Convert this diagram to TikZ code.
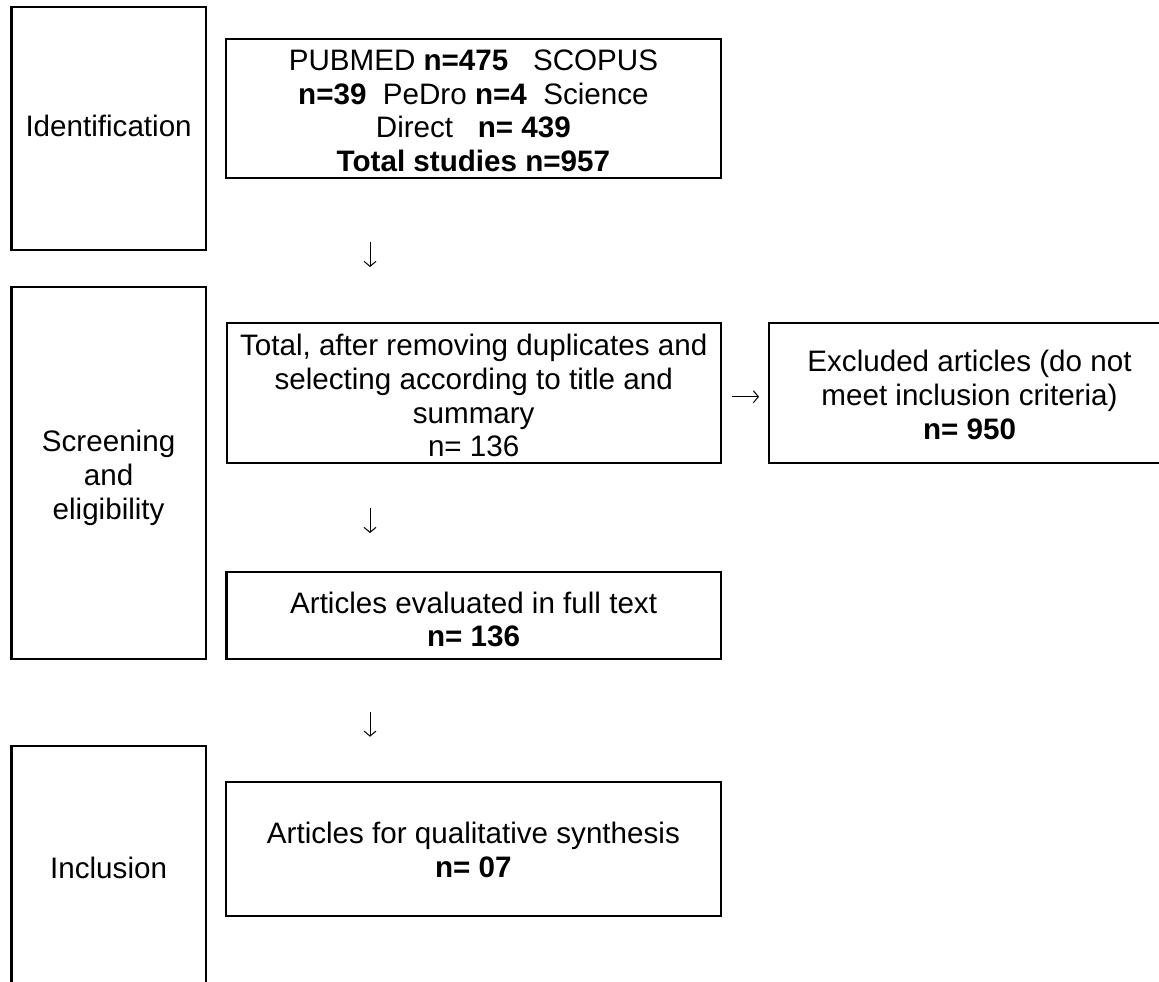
\documentclass[tikz,border=0pt]{standalone}
\usepackage{fontspec}
\setmainfont{Liberation Sans}
\usetikzlibrary{arrows.meta}
\tikzset{
  txt/.style={font=\fontsize{29.6}{33.7}\selectfont, align=center, inner sep=0pt},
  box/.style={draw=black, line width=2.2pt, rectangle, inner sep=0pt, anchor=center},
  boxtext/.style 2 args={label={[txt, yshift=#1]center:{#2}}},
  flow/.style={line width=1pt, -{Straight Barb[length=5pt,width=12pt,line width=1pt]}}
}
\begin{document}
\begin{tikzpicture}[x=1pt,y=-1pt]
\clip (0,0) rectangle (1159,982);
\fill[white] (0,0) rectangle (1159,982);

% stage boxes
\node[box, minimum width=194.2pt, minimum height=243pt,
  boxtext={3pt}{Identification}] (ident) at (108.6,128.5) {};
\node[box, minimum width=194.2pt, minimum height=372.6pt,
  boxtext={-5pt}{Screening\\and\\eligibility}] (screen) at (108.6,473) {};
\node[box, minimum width=194.2pt, minimum height=243pt,
  boxtext={0pt}{Inclusion}] (incl) at (108.6,867.5) {};

% flow boxes
\node[box, minimum width=494.7pt, minimum height=139.3pt,
  boxtext={-2pt}{PUBMED \textbf{n=475}~~~SCOPUS\\\textbf{n=39}~~PeDro \textbf{n=4}~~Science\\Direct~~~\textbf{n= 439}\\\textbf{Total studies n=957}}] (ids) at (473.4,108.7) {};
\node[box, minimum width=494pt, minimum height=140pt,
  boxtext={-3pt}{Total, after removing duplicates and\\selecting according to title and\\summary\\n= 136}] (scr) at (473.7,392.7) {};
\node[box, minimum width=401pt, minimum height=139.7pt,
  boxtext={-2pt}{Excluded articles (do not\\meet inclusion criteria)\\\textbf{n= 950}}] (excl) at (969.5,392.9) {};
\node[box, minimum width=494.2pt, minimum height=87.6pt,
  boxtext={-4pt}{Articles evaluated in full text\\\textbf{n= 136}}] (full) at (473.6,615.5) {};
\node[box, minimum width=494.7pt, minimum height=133.4pt,
  boxtext={-1pt}{Articles for qualitative synthesis\\\textbf{n= 07}}] (qual) at (473.4,849) {};

% free-standing arrows
\coordinate (a1s) at (370,242);
\coordinate (a1e) at (370,267);
\coordinate (a2s) at (370,508);
\coordinate (a2e) at (370,533);
\coordinate (a3s) at (370,711.7);
\coordinate (a3e) at (370,736.7);
\coordinate (ars) at (731.7,396.7);
\coordinate (are) at (759,396.7);
\draw[flow] (a1s) -- (a1e);
\draw[flow] (a2s) -- (a2e);
\draw[flow] (a3s) -- (a3e);
\draw[flow] (ars) -- (are);
\end{tikzpicture}
\end{document}
